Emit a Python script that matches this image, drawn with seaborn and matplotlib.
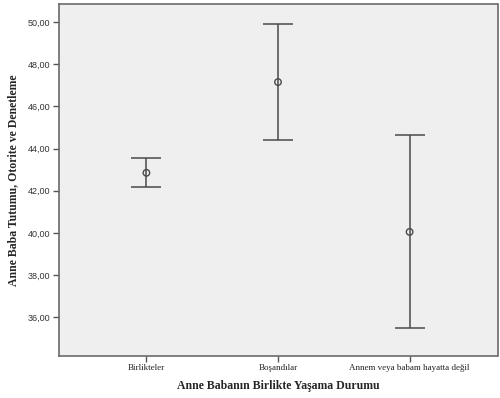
import pandas as pd
import matplotlib.pyplot as plt
import seaborn as sns
from matplotlib.ticker import FuncFormatter

# Data (mean with 95% CI)
groups = ['Birlikteler', 'Boşandılar', 'Annem veya babam hayatta değil']
means = [42.85, 47.15, 40.05]
lower = [42.18, 44.42, 35.52]
upper = [43.53, 49.88, 44.62]

df = pd.DataFrame({'grup': groups, 'ort': means, 'alt': lower, 'ust': upper})

sns.set_style('white')
plt.rcParams['font.family'] = ['Liberation Serif', 'DejaVu Serif']

fig = plt.figure(figsize=(5, 3.98), dpi=100)
ax = fig.add_axes([0.117, 0.106, 0.878, 0.884])
ax.set_facecolor('#efefef')

line_col = '#4a4a4a'
ax.errorbar(x=range(len(df)), y=df['ort'],
            yerr=[df['ort'] - df['alt'], df['ust'] - df['ort']],
            fmt='none', ecolor=line_col, elinewidth=1.1, capsize=11, capthick=1.1, zorder=2)
sns.scatterplot(data=df, x='grup', y='ort', ax=ax, marker='o', s=22,
                facecolor='none', edgecolor=line_col, linewidth=1.0, zorder=3)

ax.set_xlim(-0.668, 2.668)
ax.set_ylim(34.18, 50.85)
ax.set_yticks([36, 38, 40, 42, 44, 46, 48, 50])
ax.yaxis.set_major_formatter(FuncFormatter(lambda v, p: f'{v:.2f}'.replace('.', ',')))

for lab in ax.get_yticklabels():
    lab.set_family(['Liberation Sans', 'DejaVu Sans'])
    lab.set_fontsize(6.5)
    lab.set_color('#333333')
for lab in ax.get_xticklabels():
    lab.set_fontsize(6.5)
    lab.set_color('#222222')

ax.tick_params(axis='both', direction='out', length=4, width=1, color='#555555', pad=2)
ax.tick_params(axis='y', left=True)
ax.tick_params(axis='x', bottom=True)

for side in ['left', 'bottom', 'right', 'top']:
    ax.spines[side].set_color('#6a6a6a')
    ax.spines[side].set_linewidth(1.2)

ax.set_xlabel('Anne Babanın Birlikte Yaşama Durumu', fontsize=8.5, fontweight='bold', labelpad=6)
ax.set_ylabel('Anne Baba Tutumu, Otorite ve Denetleme', fontsize=8.5, fontweight='bold', labelpad=6)

fig.savefig('out.png', dpi=100, facecolor='white')
plt.close()
